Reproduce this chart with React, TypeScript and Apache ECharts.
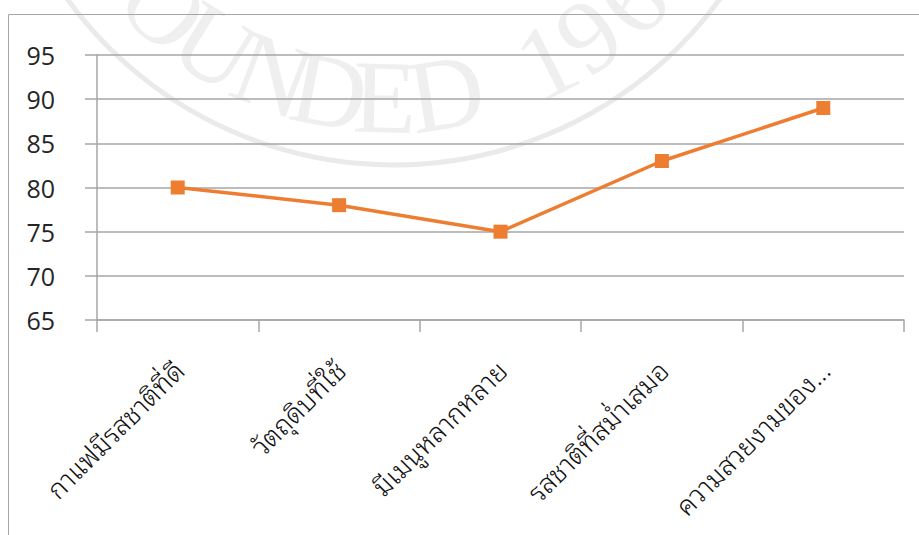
import React, { useEffect, useRef } from "react";
import * as echarts from "echarts";

const categories: string[] = [
  "กาแฟมีรสชาติที่ดี",
  "วัตถุดิบที่ใช้",
  "มีเมนูหลากหลาย",
  "รสชาติที่สม่ำเสมอ",
  "ความสวยงามของ...",
];
const values: number[] = [80, 78, 75, 83, 89];
const yTicks = { min: 65, max: 95, interval: 5 };

// watermark letters and their angle (degrees from straight down) on the seal
const wmLetters: string[] = ["O", "U", "N", "D", "E", "D", "1", "9", "6"];
const wmAngles: number[] = [-43, -32, -21, -11, -1.5, 9, 27, 35.5, 45];

export default function App() {
  const ref = useRef<HTMLDivElement>(null);

  useEffect(() => {
    if (!ref.current) return;
    const chart = echarts.init(ref.current, null, { renderer: "svg" });

    const cx = 393.5;
    const cy = -238.6;
    const rText = 336;
    const wmColor = "#efefef";
    const letters = wmLetters.map((ch, i) => {
      const phi = (wmAngles[i] * Math.PI) / 180;
      return {
        type: "text",
        x: cx + rText * Math.sin(phi),
        y: cy + rText * Math.cos(phi),
        rotation: phi,
        z: -10,
        silent: true,
        style: {
          text: ch,
          font: "104px 'Liberation Serif', serif",
          fill: wmColor,
          align: "center",
          verticalAlign: "middle",
        },
      };
    });

    const axisColor = "#a6a6a6";
    const thaiFont =
      "'Noto Sans Thai Looped', Loma, Garuda, 'Tlwg Typo', Norasi, Kinnari, 'Noto Serif Thai', 'Noto Sans Thai', sans-serif";

    chart.setOption({
      animation: false,
      backgroundColor: "#ffffff",
      grid: { left: 97, right: 15, top: 55, bottom: 215, containLabel: false },
      xAxis: {
        type: "category",
        data: categories,
        boundaryGap: true,
        axisLine: { show: true, lineStyle: { color: axisColor, width: 1.5 } },
        axisTick: {
          show: true,
          length: 12,
          alignWithLabel: false,
          lineStyle: { color: axisColor, width: 1.5 },
        },
        axisLabel: {
          rotate: 45,
          interval: 0,
          margin: 44,
          fontSize: 27,
          fontWeight: 300,
          color: "#111111",
          fontFamily: thaiFont,
        },
        splitLine: { show: false },
      },
      yAxis: {
        type: "value",
        min: yTicks.min,
        max: yTicks.max,
        interval: yTicks.interval,
        axisLine: { show: true, lineStyle: { color: axisColor, width: 1.5 } },
        axisTick: {
          show: true,
          inside: false,
          length: 12,
          lineStyle: { color: axisColor, width: 1.5 },
        },
        axisLabel: {
          margin: 42,
          fontSize: 25,
          color: "#262626",
          fontFamily: "'Open Sans', 'Noto Sans', sans-serif",
        },
        splitLine: { show: true, lineStyle: { color: axisColor, width: 1.5 } },
      },
      series: [
        {
          type: "line",
          data: values,
          symbol: "rect",
          symbolSize: 14,
          lineStyle: { color: "#ED7D31", width: 3.5 },
          itemStyle: { color: "#ED7D31" },
          z: 5,
        },
      ],
      graphic: [
        {
          type: "arc",
          z: -10,
          silent: true,
          shape: { cx, cy, r: 403.6, startAngle: 0.3, endAngle: 2.85 },
          style: { stroke: "#eaeaea", lineWidth: 5, fill: "none" },
        },
        ...letters,
        {
          type: "rect",
          z: 100,
          silent: true,
          shape: { x: 8.5, y: 14.5, width: 1000, height: 1000 },
          style: { stroke: "#a6a6a6", lineWidth: 1, fill: "none" },
        },
      ],
    });

    return () => chart.dispose();
  }, []);

  return (
    <div
      ref={ref}
      style={{ position: "fixed", left: 0, top: 0, width: 919, height: 535 }}
    />
  );
}
